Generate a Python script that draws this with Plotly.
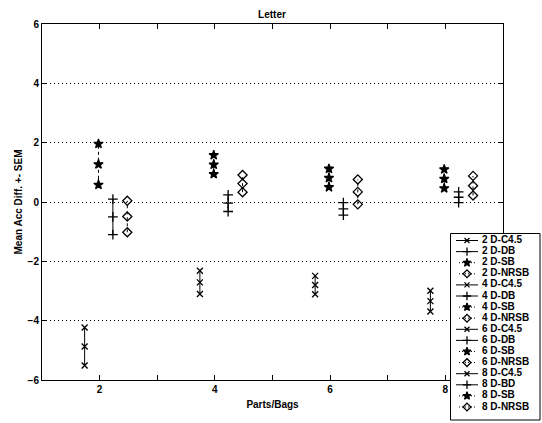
import plotly.graph_objects as go

# ---------------- data ----------------
title = "Letter"
x_title = "Parts/Bags"
y_title = "Mean Acc Diff. +- SEM"
groups = [2, 4, 6, 8]
methods = ["C4.5", "DB", "SB", "NRSB"]
offsets = [-0.26, 0.23, -0.02, 0.48]
means = {
    "C4.5": [-4.87, -2.71, -2.80, -3.34],
    "DB":   [-0.50, -0.04, -0.23, 0.16],
    "SB":   [1.27, 1.26, 0.81, 0.78],
    "NRSB": [-0.49, 0.62, 0.34, 0.55],
}
sems = {
    "C4.5": [0.64, 0.39, 0.31, 0.35],
    "DB":   [0.60, 0.28, 0.21, 0.18],
    "SB":   [0.69, 0.32, 0.31, 0.32],
    "NRSB": [0.53, 0.29, 0.42, 0.33],
}
legend_labels = [
    "2 D-C4.5", "2 D-DB", "2 D-SB", "2 D-NRSB",
    "4 D-C4.5", "4 D-DB", "4 D-SB", "4 D-NRSB",
    "6 D-C4.5", "6 D-DB", "6 D-SB", "6 D-NRSB",
    "8 D-C4.5", "8 D-BD", "8 D-SB", "8 D-NRSB",
]
x_tickvals = [2, 3, 4, 5, 6, 7, 8]
x_ticktext = ["2", "", "4", "", "6", "", "8"]
y_tickvals = [-6, -4, -2, 0, 2, 4, 6]

# ---------------- styles ----------------
style = {
    "C4.5": dict(symbol="x-thin", size=6, dash="solid"),
    "DB":   dict(symbol="cross-thin", size=7, dash="solid"),
    "SB":   dict(symbol="star", size=7, dash="dashdot"),
    "NRSB": dict(symbol="diamond-open", size=7, dash="dot"),
}
FONT = "Liberation Sans, Arial, sans-serif"
BLACK = "#000000"

fig = go.Figure()

for gi, g in enumerate(groups):
    for mi, m in enumerate(methods):
        mu = means[m][gi]
        s = sems[m][gi]
        xp = g + offsets[mi]
        st = style[m]
        fig.add_trace(go.Scatter(
            x=[xp, xp, xp], y=[mu - s, mu, mu + s],
            mode="lines+markers",
            line=dict(color=BLACK, width=1, dash=st["dash"]),
            marker=dict(symbol=st["symbol"], size=st["size"], color=BLACK,
                        line=dict(color=BLACK, width=1.3)),
            showlegend=False, xaxis="x", yaxis="y",
        ))

# ---------------- custom legend (overlay axes x2/y2) ----------------
LEG_H = 188
row0 = 7.5
row_step = 11.1
for i, lab in enumerate(legend_labels):
    m = methods[i % 4]
    st = style[m]
    yc = row0 + row_step * i
    solid = m in ("C4.5", "DB")
    lx = [6, 28] if solid else [9, 25]
    fig.add_trace(go.Scatter(
        x=lx, y=[yc, yc], mode="lines",
        line=dict(color=BLACK, width=1, dash="solid" if solid else "1px,2px"),
        showlegend=False, xaxis="x2", yaxis="y2", hoverinfo="skip",
    ))
    fig.add_trace(go.Scatter(
        x=[17], y=[yc], mode="markers",
        marker=dict(symbol=st["symbol"], size=st["size"] - 1, color=BLACK,
                    line=dict(color=BLACK, width=1.3)),
        showlegend=False, xaxis="x2", yaxis="y2", hoverinfo="skip",
    ))
    fig.add_trace(go.Scatter(
        x=[32], y=[yc], mode="text", text=[lab], textposition="middle right",
        textfont=dict(family=FONT, size=10, color=BLACK, weight="bold"),
        showlegend=False, xaxis="x2", yaxis="y2", hoverinfo="skip",
    ))

fig.add_shape(type="rect", xref="x2", yref="y2", x0=0.5, x1=90, y0=0.5, y1=LEG_H - 1,
              line=dict(color=BLACK, width=1), fillcolor="white", layer="below")

W, H = 542, 423
L, R, T, B = 42, 0, 24, 0
pw, ph = W - L - R, H - T - B
ax_right = 503
ax_bottom = 380
leg_left, leg_right = 450, 541
leg_top, leg_bottom = 233, 421

fig.update_layout(
    template="none",
    width=W, height=H,
    margin=dict(l=L, r=R, t=T, b=B, autoexpand=False),
    paper_bgcolor="white", plot_bgcolor="white",
    font=dict(family=FONT, size=10, color=BLACK, weight="bold"),
    title=dict(text=title, x=(272 / W), xanchor="center", y=1 - 14 / H, yanchor="middle",
               font=dict(size=10, color=BLACK, weight="bold")),
    xaxis=dict(
        domain=[0, (ax_right - L) / pw], range=[1, 9], automargin=False,
        tickvals=x_tickvals, ticktext=x_ticktext,
        tickfont=dict(color=BLACK, size=10, weight="bold"),
        ticks="inside", ticklen=5, tickcolor=BLACK, mirror="ticks",
        showline=True, linecolor=BLACK, linewidth=1, showgrid=False, zeroline=False,
        title=dict(text=x_title, standoff=6, font=dict(size=10, color=BLACK, weight="bold")),
        anchor="y",
    ),
    yaxis=dict(
        domain=[(H - ax_bottom) / ph, 1], range=[-6, 6], automargin=False,
        tickvals=y_tickvals,
        tickfont=dict(color=BLACK, size=10, weight="bold"),
        ticks="inside", ticklen=5, tickcolor=BLACK, mirror="ticks",
        showline=True, linecolor=BLACK, linewidth=1,
        showgrid=True, gridcolor=BLACK, gridwidth=1, griddash="1px,3px", zeroline=False,
        title=dict(text=y_title, standoff=3, font=dict(size=10, color=BLACK, weight="bold")),
        anchor="x",
    ),
    xaxis2=dict(
        domain=[(leg_left - L) / pw, (leg_right - L) / pw], range=[0, leg_right - leg_left],
        visible=False, fixedrange=True, anchor="y2", automargin=False,
    ),
    yaxis2=dict(
        domain=[(H - leg_bottom) / ph, (H - leg_top) / ph], range=[LEG_H, 0],
        visible=False, fixedrange=True, anchor="x2", automargin=False,
    ),
    showlegend=False,
)

fig.write_html("out.html")
